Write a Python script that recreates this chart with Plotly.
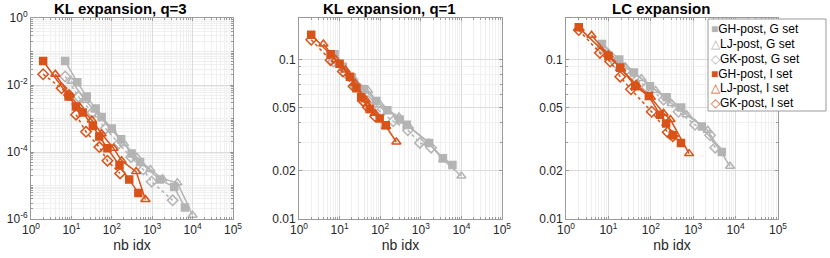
import plotly.graph_objects as go

# ---------------- data ----------------
# Panel 1: KL expansion, q=3
kl3_gh_g_x = [7, 14, 24, 40, 56, 100, 170, 310, 500, 1550, 3500, 6500]
kl3_gh_g_y = [5.2e-2, 1.2e-2, 4.5e-3, 2e-3, 1.1e-3, 5e-4, 2.4e-4, 9e-5, 5e-5, 1.5e-5, 9e-6, 2.2e-6]
kl3_lj_g_x = [10, 22, 46, 100, 200, 420, 900, 1800, 4200, 10000]
kl3_lj_g_y = [1.3e-2, 3.5e-3, 1.3e-3, 4.5e-4, 1.8e-4, 7e-5, 3e-5, 1.6e-5, 1.2e-5, 1.3e-6]
kl3_gk_g_x = [7, 15, 33, 70, 150, 300, 600, 970, 3200]
kl3_gk_g_y = [1.8e-2, 4.5e-3, 1.5e-3, 5e-4, 1.8e-4, 7e-5, 3e-5, 1.3e-5, 3.6e-6]
kl3_gh_i_x = [2, 8.5, 13, 19, 34, 49, 78, 155, 270, 455]
kl3_gh_i_y = [5.2e-2, 4.5e-3, 2.3e-3, 1.5e-3, 6e-4, 2.9e-4, 1.3e-4, 4e-5, 1.5e-5, 6e-6]
kl3_lj_i_x = [4, 9, 16, 32, 56, 110, 175, 400, 680]
kl3_lj_i_y = [2.1e-2, 5e-3, 2.2e-3, 9e-4, 3.5e-4, 1.3e-4, 5.5e-5, 2.6e-5, 3.8e-6]
kl3_gk_i_x = [2, 5.7, 8.7, 13, 23, 49, 78, 160]
kl3_gk_i_y = [2.1e-2, 8e-3, 5e-3, 1.3e-3, 4e-4, 1.4e-4, 5.5e-5, 2.3e-5]

# Panel 2: KL expansion, q=1
kl1_gh_g_x = [7.5, 12, 20, 40, 80, 150, 300, 450, 1600, 3500, 6000]
kl1_gh_g_y = [0.108, 0.090, 0.077, 0.065, 0.055, 0.048, 0.042, 0.039, 0.030, 0.024, 0.0218]
kl1_lj_g_x = [10, 22, 50, 100, 290, 510, 1560, 3550, 10000]
kl1_lj_g_y = [0.092, 0.076, 0.064, 0.052, 0.0436, 0.038, 0.030, 0.0235, 0.0186]
kl1_gk_g_x = [7, 14, 25, 50, 100, 210, 480, 950, 1800]
kl1_gk_g_y = [0.097, 0.082, 0.068, 0.055, 0.047, 0.041, 0.036, 0.030, 0.028]
kl1_gh_i_x = [2, 6, 10, 18, 26, 34, 55, 97, 137]
kl1_gh_i_y = [0.143, 0.108, 0.094, 0.078, 0.066, 0.058, 0.049, 0.0426, 0.0387]
kl1_lj_i_x = [4, 8, 14, 24, 44, 74, 140, 250]
kl1_lj_i_y = [0.125, 0.100, 0.086, 0.071, 0.056, 0.046, 0.038, 0.0304]
kl1_gk_i_x = [2, 6, 12, 22, 38, 50, 75]
kl1_gk_i_y = [0.133, 0.099, 0.084, 0.068, 0.055, 0.050, 0.044]

# Panel 3: LC expansion
lc_gh_g_x = [7, 18, 40, 96, 236, 520, 1600, 4700]
lc_gh_g_y = [0.125, 0.100, 0.083, 0.068, 0.058, 0.050, 0.038, 0.0263]
lc_lj_g_x = [10, 25, 60, 130, 310, 700, 2200, 7400]
lc_lj_g_y = [0.110, 0.090, 0.076, 0.064, 0.053, 0.045, 0.036, 0.0214]
lc_gk_g_x = [7, 15, 35, 80, 200, 450, 1100, 2500, 3300]
lc_gk_g_y = [0.118, 0.095, 0.080, 0.067, 0.056, 0.047, 0.039, 0.0335, 0.028]
lc_gh_i_x = [2, 10, 19, 43, 90, 165, 230, 330, 515]
lc_gh_i_y = [0.159, 0.105, 0.089, 0.068, 0.059, 0.045, 0.0397, 0.0335, 0.030]
lc_lj_i_x = [4, 10, 20, 45, 100, 200, 290, 800]
lc_lj_i_y = [0.142, 0.107, 0.087, 0.070, 0.058, 0.046, 0.042, 0.0257]
lc_gk_i_x = [2, 6.3, 11, 19, 34, 105, 250, 330]
lc_gk_i_y = [0.153, 0.110, 0.097, 0.078, 0.065, 0.047, 0.035, 0.033]

panel_titles = ["KL expansion, q=3", "KL expansion, q=1", "LC expansion"]
series_names = ["GH-post, G set", "LJ-post, G set", "GK-post, G set",
                "GH-post, I set", "LJ-post, I set", "GK-post, I set"]
x_label = "nb idx"
x_tick_vals = [1, 10, 100, 1000, 10000, 100000]
x_tick_text = ["10<sup>0</sup>", "10<sup>1</sup>", "10<sup>2</sup>",
               "10<sup>3</sup>", "10<sup>4</sup>", "10<sup>5</sup>"]
y1_tick_vals = [1e-6, 1e-4, 1e-2, 1]
y1_tick_text = ["10<sup>-6</sup>", "10<sup>-4</sup>", "10<sup>-2</sup>", "10<sup>0</sup>"]
y23_tick_vals = [0.01, 0.02, 0.05, 0.1]
y23_tick_text = ["0.01", "0.02", "0.05", "0.1"]

panels = [
    [(kl3_gh_g_x, kl3_gh_g_y), (kl3_lj_g_x, kl3_lj_g_y), (kl3_gk_g_x, kl3_gk_g_y),
     (kl3_gh_i_x, kl3_gh_i_y), (kl3_lj_i_x, kl3_lj_i_y), (kl3_gk_i_x, kl3_gk_i_y)],
    [(kl1_gh_g_x, kl1_gh_g_y), (kl1_lj_g_x, kl1_lj_g_y), (kl1_gk_g_x, kl1_gk_g_y),
     (kl1_gh_i_x, kl1_gh_i_y), (kl1_lj_i_x, kl1_lj_i_y), (kl1_gk_i_x, kl1_gk_i_y)],
    [(lc_gh_g_x, lc_gh_g_y), (lc_lj_g_x, lc_lj_g_y), (lc_gk_g_x, lc_gk_g_y),
     (lc_gh_i_x, lc_gh_i_y), (lc_lj_i_x, lc_lj_i_y), (lc_gk_i_x, lc_gk_i_y)],
]

# ---------------- styles ----------------
GRAY = "#b4b4b4"
ORANGE = "#d95319"
styles = [
    dict(color=GRAY, symbol="square", dash="solid", size=7),
    dict(color=GRAY, symbol="triangle-up-open", dash="solid", size=8),
    dict(color=GRAY, symbol="diamond-open", dash="dot", size=8),
    dict(color=ORANGE, symbol="square", dash="solid", size=7),
    dict(color=ORANGE, symbol="triangle-up-open", dash="solid", size=8),
    dict(color=ORANGE, symbol="diamond-open", dash="dot", size=8),
]

W, H = 830, 258
x_px = [(31, 233), (299, 502), (566, 778)]
y_px = (18, 219)
FONT = "Liberation Sans, Arial, Helvetica, sans-serif"

fig = go.Figure()
for p, series in enumerate(panels):
    xa = "x" if p == 0 else f"x{p+1}"
    ya = "y" if p == 0 else f"y{p+1}"
    for s, (xs, ys) in enumerate(series):
        st = styles[s]
        fig.add_trace(go.Scatter(
            x=xs, y=ys, xaxis=xa, yaxis=ya, mode="lines+markers",
            name=series_names[s], showlegend=False,
            line=dict(color=st["color"], width=1.5, dash=st["dash"]),
            marker=dict(symbol=st["symbol"], size=st["size"], color=st["color"],
                        line=dict(color=st["color"], width=1.5)),
        ))

x_minor = [m * 10 ** k for k in range(0, 5) for m in range(2, 10)]
y1_minor = [m * 10 ** k for k in range(-6, 0) for m in range(1, 10) if not (m == 1 and k % 2 == 0)]
y23_minor = [0.03, 0.04, 0.06, 0.07, 0.08, 0.09]

axis_common = dict(
    type="log", showline=True, linecolor="#9a9a9a", linewidth=1, mirror="ticks",
    ticks="inside", ticklen=3, tickcolor="#9a9a9a", automargin=False,
    showgrid=True, gridcolor="#dcdcdc", gridwidth=1, zeroline=False,
    tickfont=dict(family=FONT, size=12, color="#262626"),
)

layout = dict(
    width=W, height=H, margin=dict(l=0, r=0, t=0, b=0, autoexpand=False),
    paper_bgcolor="white", plot_bgcolor="white", showlegend=False,
    font=dict(family=FONT, color="#262626"),
)
ydom = [(H - y_px[1]) / H, (H - y_px[0]) / H]
for p in range(3):
    sx = "" if p == 0 else str(p + 1)
    xdom = [x_px[p][0] / W, x_px[p][1] / W]
    layout["xaxis" + sx] = dict(
        axis_common, domain=xdom, anchor="y" + sx, range=[0, 5],
        tickmode="array", tickvals=x_tick_vals, ticktext=x_tick_text,
        minor=dict(tickmode="array", tickvals=x_minor, showgrid=True,
                   gridcolor="#f0f0f0", ticks="inside", ticklen=2, tickcolor="#9a9a9a"),
        title=dict(text=x_label, font=dict(family=FONT, size=14, color="#262626"), standoff=2),
    )
    if p == 0:
        yextra = dict(range=[-6, 0], tickvals=y1_tick_vals, ticktext=y1_tick_text,
                      minor=dict(tickmode="array", tickvals=y1_minor, showgrid=True,
                                 gridcolor="#f0f0f0", ticks="inside", ticklen=2, tickcolor="#9a9a9a"))
    else:
        yextra = dict(range=[-2, -0.74], tickvals=y23_tick_vals, ticktext=y23_tick_text,
                      minor=dict(tickmode="array", tickvals=y23_minor, showgrid=True,
                                 gridcolor="#f0f0f0", ticks="inside", ticklen=2, tickcolor="#9a9a9a"))
    layout["yaxis" + sx] = dict(axis_common, domain=ydom, anchor="x" + sx,
                                tickmode="array", **yextra)

fig.update_layout(**layout)

# titles
title_cx = [120, 389, 661]
for p in range(3):
    fig.add_annotation(text=f"<b>{panel_titles[p]}</b>", xref="paper", yref="paper",
                       x=title_cx[p] / W, y=(H - 9) / H, xanchor="center", yanchor="middle",
                       showarrow=False, font=dict(family=FONT, size=15, color="#000000"))

# legend box (inside panel 3)
fig.add_shape(type="rect", xref="paper", yref="paper",
              x0=708 / W, x1=826 / W, y0=(H - 111) / H, y1=(H - 19) / H,
              line=dict(color="#9a9a9a", width=1), fillcolor="white", layer="above")
leg_syms = ["■", "△", "◇", "■", "△", "◇"]
row_y = [29.5, 44.3, 59, 73.8, 88.3, 102.8]
for s in range(6):
    col = styles[s]["color"]
    fig.add_annotation(
        text=f"<span style='color:{col}'>{leg_syms[s]}</span>{series_names[s]}",
        xref="paper", yref="paper", x=709 / W, y=(H - row_y[s]) / H,
        xanchor="left", yanchor="middle", showarrow=False,
        font=dict(family=FONT, size=12, color="#000000"))

fig.write_html("out.html", config={"displayModeBar": False},
               post_script="document.body.style.margin='0';document.body.style.overflow='hidden';")
